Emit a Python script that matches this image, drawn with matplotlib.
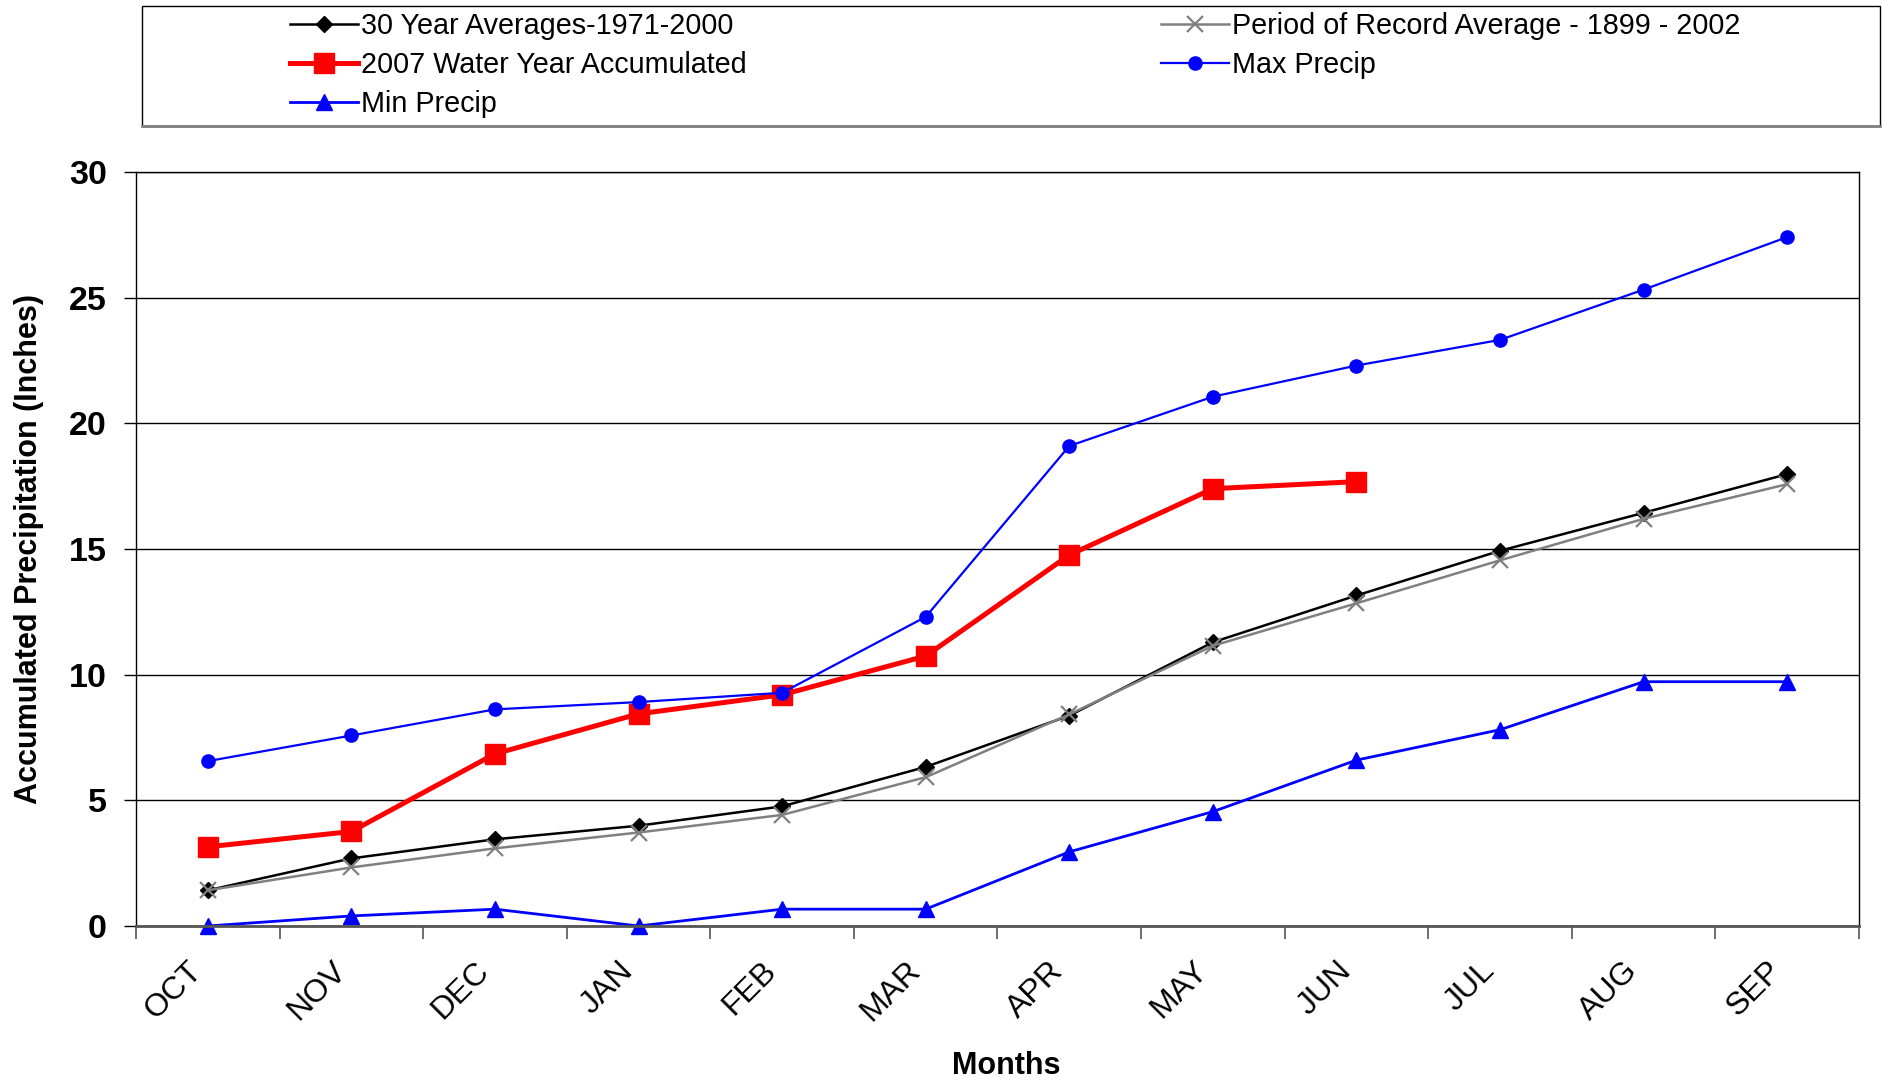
"""Accumulated precipitation by water-year month vs. averages and records"""
import matplotlib
matplotlib.use('Agg')
import matplotlib.pyplot as plt
import matplotlib.transforms as mtransforms
from matplotlib.patches import Rectangle

plt.rcParams['font.family'] = ['Liberation Sans', 'DejaVu Sans']

months = ['OCT', 'NOV', 'DEC', 'JAN', 'FEB', 'MAR', 'APR', 'MAY', 'JUN', 'JUL', 'AUG', 'SEP']
avg_1971_2000 = [1.42, 2.69, 3.45, 3.99, 4.76, 6.33, 8.37, 11.29, 13.15, 14.93, 16.44, 17.98]
por_avg_1899_2002 = [1.42, 2.33, 3.09, 3.72, 4.42, 5.92, 8.42, 11.15, 12.84, 14.55, 16.2, 17.58]
wy2007 = [3.15, 3.76, 6.85, 8.44, 9.2, 10.74, 14.76, 17.4, 17.68]
max_precip = [6.56, 7.58, 8.62, 8.91, 9.28, 12.3, 19.1, 21.06, 22.3, 23.32, 25.32, 27.41]
min_precip = [0.0, 0.4, 0.67, 0.0, 0.67, 0.67, 2.95, 4.55, 6.6, 7.81, 9.72, 9.72]

W, H = 1883, 1080
fig = plt.figure(figsize=(W / 100, H / 100), dpi=100)
ax = fig.add_axes([136 / W, 1 - 926 / H, (1859 - 136) / W, (926 - 172) / H])

x = list(range(len(months)))
l_avg, = ax.plot(x, avg_1971_2000, color='black', lw=1.8, marker='D', ms=8.5,
                 label='30 Year Averages-1971-2000', clip_on=False)
l_por, = ax.plot(x, por_avg_1899_2002, color='#808080', lw=1.8, marker='x', ms=11, mew=1.6,
                 label='Period of Record Average - 1899 - 2002', clip_on=False)
l_wy, = ax.plot(x[:len(wy2007)], wy2007, color='#FF0000', lw=3.6, marker='s', ms=15,
                label='2007 Water Year Accumulated', clip_on=False)
l_max, = ax.plot(x, max_precip, color='#0000FF', lw=1.6, marker='o', ms=9.5,
                 label='Max Precip', clip_on=False)
l_min, = ax.plot(x, min_precip, color='#0000FF', lw=2.0, marker='^', ms=12,
                 label='Min Precip', clip_on=False)

ax.set_xlim(-0.5, len(months) - 0.5)
ax.set_ylim(0, 30)
ax.set_yticks(range(0, 31, 5))
ax.yaxis.grid(True, color='black', lw=1.0)
ax.set_axisbelow(True)

# category labels at centres, tick marks at boundaries
ax.set_xticks(x)
ax.set_xticklabels(months, rotation=45, ha='right', va='center', rotation_mode='anchor', fontsize=23)
ax.tick_params(axis='x', which='major', length=0, pad=29)
shift = mtransforms.ScaledTranslation(-10 / 100, 0, fig.dpi_scale_trans)
for lab in ax.get_xticklabels():
    lab.set_transform(lab.get_transform() + shift)
ax.set_xticks([i - 0.5 for i in range(len(months) + 1)], minor=True)
ax.tick_params(axis='x', which='minor', length=9, width=1.2, color='#555555', direction='out')
ax.tick_params(axis='y', length=9, width=1.0, pad=12, labelsize=24.5)
for lab in ax.get_yticklabels():
    lab.set_fontweight('bold')

for side in ['left', 'right', 'top']:
    ax.spines[side].set_linewidth(1.0)
    ax.spines[side].set_color('black')
ax.spines['bottom'].set_linewidth(2.0)
ax.spines['bottom'].set_color('#555555')

ax.set_ylabel('Accumulated Precipitation (Inches)', fontsize=22, fontweight='bold')
ax.yaxis.set_label_coords((44 - 136) / (1859 - 136), 0.5)
ax.set_xlabel('Months', fontsize=22, fontweight='bold')
ax.xaxis.set_label_coords(0.505, -(1051 - 926) / (926 - 172))

# legend box drawn separately, legend entries laid out row-wise
fig.patches.append(Rectangle((142 / W, 1 - 126 / H), (1880 - 142) / W, 120 / H,
                             transform=fig.transFigure, fill=False, ec='black', lw=1.0))
fig.add_artist(plt.Line2D([142 / W, 1880 / W], [1 - 126 / H, 1 - 126 / H],
                          transform=fig.transFigure, color='#808080', lw=2.0))
top = 1 - 12 / H
fig.legend([l_avg, l_wy, l_min, l_por, l_max],
           [l.get_label() for l in [l_avg, l_wy, l_min, l_por, l_max]],
           ncol=2, loc='upper left', mode='expand', frameon=False, borderpad=0,
           bbox_to_anchor=(290 / W, 0.85, (1741 - 290) / W, top - 0.85),
           fontsize=20.7, handlelength=2.35, handletextpad=0.12, labelspacing=0.38,
           borderaxespad=0)

fig.savefig('out.png', dpi=100)
